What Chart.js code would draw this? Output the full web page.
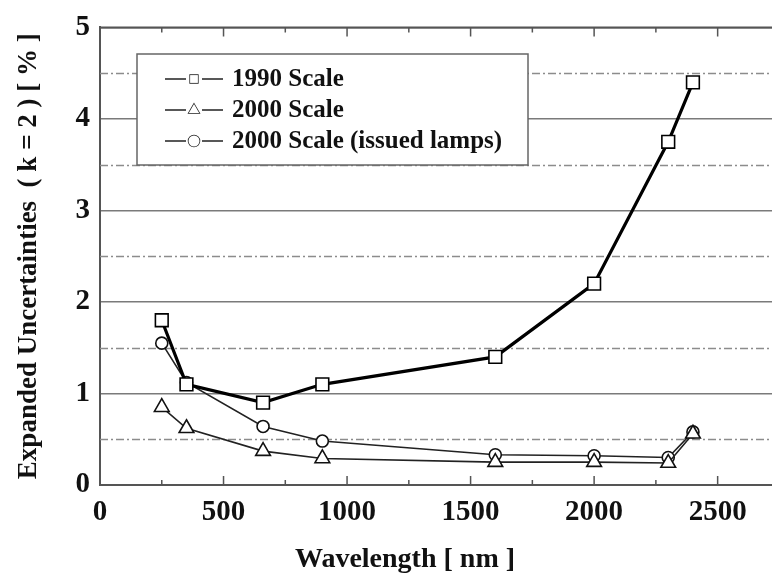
<!DOCTYPE html>
<html>
<head>
<meta charset="utf-8">
<script src="https://cdn.jsdelivr.net/npm/chart.js@4.4.1/dist/chart.umd.min.js"></script>
<style>
  html, body { margin: 0; padding: 0; background: #fff; }
  #wrap { width: 772px; height: 577px; }
</style>
</head>
<body>
<div id="wrap"><canvas id="chartUnc"></canvas></div>
<script>
// wavelength in nm
const wavelengths = [250, 350, 660, 900, 1600, 2000, 2300, 2400];
// expanded uncertainties (k=2) in %
const scale1990 = [1.80, 1.10, 0.90, 1.10, 1.40, 2.20, 3.75, 4.40];
const scale2000 = [0.85, 0.62, 0.37, 0.29, 0.25, 0.25, 0.24, 0.56];
const scale2000Lamps = [1.55, 1.12, 0.64, 0.48, 0.33, 0.32, 0.30, 0.58];
const seriesLabels = ['1990 Scale', '2000 Scale', '2000 Scale (issued lamps)'];
const xTickValues = [0, 500, 1000, 1500, 2000, 2500];
const xMinorTicks = [250, 750, 1250, 1750, 2250];
const xTitle = 'Wavelength [ nm ]';
const yTitle = 'Expanded Uncertainties  ( k = 2 ) [ % ]';

const serif = "'Liberation Serif', 'DejaVu Serif', serif";
const toPts = (ys) => wavelengths.map((w, i) => ({ x: w, y: ys[i] }));

const frame = {
  id: 'frame',
  beforeDatasetsDraw(chart) {
    // dash-dot lines on the half values
    const { ctx, chartArea: a, scales: { y } } = chart;
    ctx.save();
    ctx.strokeStyle = '#8c8c8c';
    ctx.lineWidth = 1.3;
    ctx.setLineDash([8, 3, 2, 3]);
    y.ticks.forEach(t => {
      if (t.value % 1 === 0) return;
      const py = Math.round(y.getPixelForValue(t.value)) + 0.5;
      ctx.beginPath(); ctx.moveTo(a.left, py); ctx.lineTo(a.right, py); ctx.stroke();
    });
    ctx.restore();
  },
  afterDraw(chart) {
    const { ctx, chartArea: a, scales: { x } } = chart;
    ctx.save();
    // top border
    ctx.strokeStyle = '#555';
    ctx.lineWidth = 2;
    ctx.beginPath(); ctx.moveTo(a.left, a.top); ctx.lineTo(a.right, a.top); ctx.stroke();
    // inward ticks top and bottom
    ctx.lineWidth = 1.5;
    const marks = x.ticks.map(t => [t.value, 9]).concat(xMinorTicks.map(v => [v, 5]));
    marks.forEach(([v, len]) => {
      if (v === 0) return;
      const px = x.getPixelForValue(v);
      ctx.beginPath();
      ctx.moveTo(px, a.bottom); ctx.lineTo(px, a.bottom - len);
      ctx.moveTo(px, a.top); ctx.lineTo(px, a.top + len);
      ctx.stroke();
    });
    // x title
    ctx.fillStyle = '#111';
    ctx.font = 'bold 28px ' + serif;
    ctx.textAlign = 'center';
    ctx.textBaseline = 'middle';
    ctx.fillText(xTitle, 405, 560);

    // legend box
    const bx = 137, by = 54, bw = 391, bh = 111;
    ctx.fillStyle = '#fff';
    ctx.fillRect(bx, by, bw, bh);
    ctx.strokeStyle = '#666';
    ctx.lineWidth = 1.5;
    ctx.strokeRect(bx, by, bw, bh);
    ctx.font = 'bold 25px ' + serif;
    ctx.textAlign = 'left';
    chart.data.datasets.forEach((ds, i) => {
      const cy = 79 + i * 31;
      ctx.strokeStyle = '#222';
      ctx.lineWidth = 1.5;
      ctx.beginPath();
      ctx.moveTo(165, cy); ctx.lineTo(186, cy);
      ctx.moveTo(202, cy); ctx.lineTo(223, cy);
      ctx.stroke();
      ctx.fillStyle = '#fff';
      Chart.helpers.drawPoint(ctx, {
        pointStyle: ds.pointStyle, radius: ds.pointStyle === 'triangle' ? 6 : 5.5,
        rotation: 0, borderWidth: 1.3
      }, 194, cy);
      ctx.fill();
      ctx.fillStyle = '#111';
      ctx.fillText(ds.label, 232, cy + 1);
    });
    ctx.restore();
  }
};

new Chart(document.getElementById('chartUnc'), {
  type: 'line',
  data: {
    datasets: [
      {
        label: seriesLabels[0], data: toPts(scale1990),
        borderColor: '#000', borderWidth: 3.2,
        pointStyle: 'rect', pointRadius: 9, pointBorderWidth: 1.6,
        pointBackgroundColor: '#fff', pointBorderColor: '#000'
      },
      {
        label: seriesLabels[1], data: toPts(scale2000),
        borderColor: '#222', borderWidth: 1.6,
        pointStyle: 'triangle', pointRadius: 8.5, pointBorderWidth: 1.6,
        pointBackgroundColor: '#fff', pointBorderColor: '#111'
      },
      {
        label: seriesLabels[2], data: toPts(scale2000Lamps),
        borderColor: '#222', borderWidth: 1.6,
        pointStyle: 'circle', pointRadius: 6, pointBorderWidth: 1.6,
        pointBackgroundColor: '#fff', pointBorderColor: '#111'
      }
    ]
  },
  options: {
    responsive: true,
    maintainAspectRatio: false,
    animation: false,
    layout: { autoPadding: false, padding: { top: 26, left: 0, right: 0, bottom: 0 } },
    plugins: { legend: { display: false }, tooltip: { enabled: false } },
    elements: { line: { tension: 0 } },
    scales: {
      x: {
        type: 'linear', min: 0, max: 2720,
        afterFit: (s) => { s.height = 92; s.paddingRight = 0; s.paddingLeft = 0; },
        afterBuildTicks: (s) => { s.ticks = xTickValues.map(v => ({ value: v })); },
        ticks: {
          padding: 2, color: '#111',
          font: { family: serif, size: 29, weight: 'bold' },
          maxRotation: 0, autoSkip: false,
          callback: (v) => String(v)
        },
        grid: { display: false },
        border: { color: '#555', width: 2 }
      },
      y: {
        min: 0, max: 5,
        afterFit: (s) => { s.width = 100; },
        ticks: {
          stepSize: 0.5, padding: 10, color: '#111',
          font: { family: serif, size: 29, weight: 'bold' },
          callback: (v) => (v % 1 === 0 ? v : '')
        },
        grid: {
          drawTicks: false, lineWidth: 1.5,
          color: (c) => (c.tick && c.tick.value % 1 === 0 ? '#7a7a7a' : 'rgba(0,0,0,0)')
        },
        border: { color: '#555', width: 2 },
        title: {
          display: true, text: yTitle, color: '#111',
          font: { family: serif, size: 27, weight: 'bold' },
          padding: { top: 13, bottom: 0 }
        }
      }
    }
  },
  plugins: [frame]
});
</script>
</body>
</html>
